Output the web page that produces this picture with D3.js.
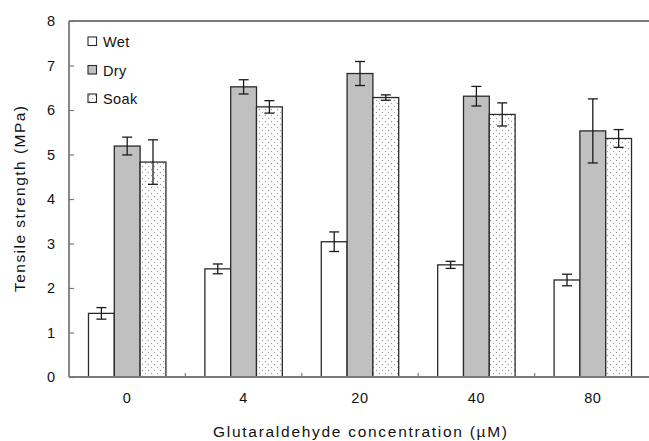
<!DOCTYPE html>
<html>
<head>
<meta charset="utf-8">
<script src="https://cdn.jsdelivr.net/npm/d3@7"></script>
<style>
  body { margin: 0; background: #fff; }
  svg { display: block; font-family: "Liberation Sans", Arial, sans-serif; }
</style>
</head>
<body>
<div id="chart"></div>
<script>
// datos
var concentraciones = ["0", "4", "20", "40", "80"];
var series = ["Wet", "Dry", "Soak"];
var wet = [1.43, 2.43, 3.04, 2.52, 2.18];
var wetErr = [0.13, 0.11, 0.22, 0.08, 0.13];
var dry = [5.19, 6.52, 6.82, 6.31, 5.53];
var dryErr = [0.2, 0.16, 0.27, 0.22, 0.72];
var soak = [4.83, 6.07, 6.28, 5.9, 5.36];
var soakErr = [0.5, 0.14, 0.06, 0.26, 0.2];
var yTicks = [0, 1, 2, 3, 4, 5, 6, 7, 8];

var valores = { Wet: wet, Dry: dry, Soak: soak };
var errores = { Wet: wetErr, Dry: dryErr, Soak: soakErr };

var width = 649, height = 441;
var mLeft = 69, mTop = 21, mBottom = 377, mRight = 651;
var axisColor = "#7a7a7a";

var svg = d3.select("#chart").append("svg")
  .attr("width", width)
  .attr("height", height);

// trama de puntos para Soak
var pat = svg.append("defs").append("pattern")
  .attr("id", "puntos")
  .attr("patternUnits", "userSpaceOnUse")
  .attr("width", 6).attr("height", 6);
pat.append("rect").attr("width", 6).attr("height", 6).attr("fill", "#fff");
pat.append("circle").attr("cx", 1.5).attr("cy", 1.5).attr("r", 0.65).attr("fill", "#9a9a9a");
pat.append("circle").attr("cx", 4.5).attr("cy", 4.5).attr("r", 0.65).attr("fill", "#9a9a9a");

var fills = { Wet: "#ffffff", Dry: "#c0c0c0", Soak: "url(#puntos)" };

var x0 = d3.scaleBand().domain(concentraciones).range([mLeft, mRight]).padding(0);
var x1 = d3.scaleBand().domain(series).range([0, x0.bandwidth()])
  .paddingInner(0).paddingOuter(0.755);
var y = d3.scaleLinear().domain([0, 8]).range([mBottom, mTop]);

var datos = [];
concentraciones.forEach(function(c, i){
  series.forEach(function(s){
    datos.push({ c: c, s: s, v: valores[s][i], e: errores[s][i] });
  });
});

// barras
svg.append("g").selectAll("rect")
  .data(datos).enter()
  .append("rect")
  .attr("x", function(d){ return x0(d.c) + x1(d.s); })
  .attr("y", function(d){ return y(d.v); })
  .attr("width", x1.bandwidth())
  .attr("height", function(d){ return y(0) - y(d.v); })
  .attr("fill", function(d){ return fills[d.s]; })
  .attr("stroke", "#2a2a2a")
  .attr("stroke-width", 1.3);

// barras de error
var eb = svg.append("g").attr("stroke", "#1a1a1a").attr("stroke-width", 1.3);
datos.forEach(function(d){
  var cx = x0(d.c) + x1(d.s) + x1.bandwidth() / 2;
  eb.append("line").attr("x1", cx).attr("x2", cx)
    .attr("y1", y(d.v + d.e)).attr("y2", y(d.v - d.e));
  [d.v + d.e, d.v - d.e].forEach(function(t){
    eb.append("line").attr("x1", cx - 5).attr("x2", cx + 5)
      .attr("y1", y(t)).attr("y2", y(t));
  });
});

// ejes
var yAxis = d3.axisLeft(y).tickValues(yTicks).tickSize(-5).tickPadding(14);
var gy = svg.append("g").attr("transform", "translate(" + mLeft + ",0)").call(yAxis);
gy.select(".domain").remove();
gy.selectAll(".tick line").attr("stroke", axisColor).attr("stroke-width", 1.2);
gy.selectAll("text").attr("font-size", 14.5).attr("fill", "#111");

var xAxis = d3.axisBottom(x0).tickSize(0).tickPadding(16);
var gx = svg.append("g").attr("transform", "translate(0," + mBottom + ")").call(xAxis);
gx.select(".domain").remove();
gx.selectAll("text").attr("font-size", 14.5).attr("letter-spacing", 0.6).attr("fill", "#111");

// marcas entre categorias
svg.append("g").selectAll("line")
  .data(concentraciones.slice(1)).enter()
  .append("line")
  .attr("x1", function(d){ return x0(d); })
  .attr("x2", function(d){ return x0(d); })
  .attr("y1", mBottom).attr("y2", mBottom - 4)
  .attr("stroke", axisColor).attr("stroke-width", 1.2);

// marco
var marco = svg.append("g").attr("stroke", axisColor).attr("stroke-width", 1.8).attr("fill", "none");
marco.append("line").attr("x1", mLeft).attr("x2", width).attr("y1", mTop).attr("y2", mTop);
marco.append("line").attr("x1", mLeft).attr("x2", mLeft).attr("y1", mTop).attr("y2", mBottom);
marco.append("line").attr("x1", mLeft).attr("x2", width).attr("y1", mBottom).attr("y2", mBottom);

// titulos
svg.append("text")
  .attr("transform", "translate(25," + ((mTop + mBottom) / 2) + ") rotate(-90)")
  .attr("text-anchor", "middle")
  .attr("font-size", 15.5)
  .attr("fill", "#111")
  .attr("textLength", 186)
  .attr("lengthAdjust", "spacing")
  .text("Tensile strength (MPa)");

svg.append("text")
  .attr("x", 360)
  .attr("y", 437)
  .attr("text-anchor", "middle")
  .attr("font-size", 15.5)
  .attr("fill", "#111")
  .attr("textLength", 294)
  .attr("lengthAdjust", "spacing")
  .text("Glutaraldehyde concentration (\u00b5M)");

// leyenda
var leyenda = svg.append("g").selectAll("g")
  .data(series).enter()
  .append("g")
  .attr("transform", function(d, i){ return "translate(88," + (37 + i * 28.5) + ")"; });
leyenda.append("rect")
  .attr("width", 8.5).attr("height", 8.5)
  .attr("fill", function(d){ return fills[d]; })
  .attr("stroke", "#2a2a2a").attr("stroke-width", 1.1);
leyenda.append("text")
  .attr("x", 15).attr("y", 10)
  .attr("font-size", 14.5)
  .attr("letter-spacing", 0.4)
  .attr("fill", "#111")
  .text(function(d){ return d; });
</script>
</body>
</html>
